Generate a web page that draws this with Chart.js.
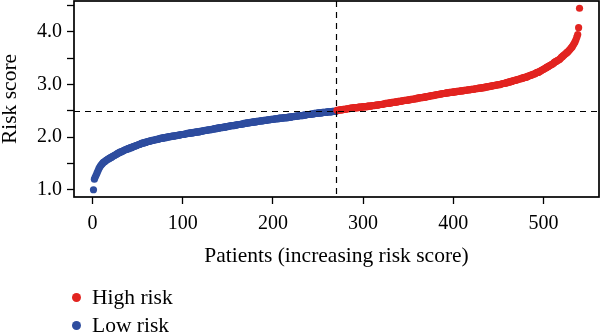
<!DOCTYPE html>
<html>
<head>
<meta charset="utf-8">
<title>Risk score distribution</title>
<script src="https://cdn.jsdelivr.net/npm/chart.js@4.4.1/dist/chart.umd.min.js"></script>
<style>
  html, body { margin: 0; padding: 0; background: #fff; }
  #wrap { position: relative; width: 600px; height: 333px; }
  #legend { position: absolute; left: 72px; top: 283px; font-family: "Liberation Serif", "DejaVu Serif", serif; font-size: 21.5px; color: #000; }
  .item { display: flex; align-items: center; height: 28px; }
  .dot { width: 9px; height: 9px; border-radius: 50%; margin-right: 11px; }
</style>
</head>
<body>
<div id="wrap">
  <canvas id="chart" width="600" height="333"></canvas>
  <div id="legend"></div>
</div>
<script>
// Sorted risk scores, patients 1-270 (below the cutoff)
const lowRisk = [
  1.00,1.20,1.24,1.28,1.32,1.36,1.40,1.43,1.46,1.48,
  1.50,1.52,1.53,1.54,1.56,1.57,1.58,1.59,1.60,1.61,
  1.62,1.63,1.64,1.65,1.66,1.67,1.68,1.69,1.70,1.71,
  1.72,1.72,1.73,1.74,1.75,1.76,1.76,1.77,1.78,1.78,
  1.79,1.80,1.80,1.81,1.82,1.82,1.83,1.84,1.84,1.85,
  1.86,1.86,1.87,1.88,1.88,1.89,1.89,1.90,1.90,1.91,
  1.91,1.92,1.92,1.93,1.93,1.94,1.94,1.94,1.95,1.95,
  1.96,1.96,1.96,1.97,1.97,1.98,1.98,1.98,1.99,1.99,
  1.99,2.00,2.00,2.00,2.01,2.01,2.01,2.02,2.02,2.02,
  2.02,2.03,2.03,2.03,2.04,2.04,2.04,2.05,2.05,2.05,
  2.05,2.06,2.06,2.06,2.07,2.07,2.07,2.08,2.08,2.08,
  2.08,2.09,2.09,2.09,2.10,2.10,2.10,2.10,2.11,2.11,
  2.11,2.12,2.12,2.12,2.13,2.13,2.13,2.14,2.14,2.14,
  2.14,2.15,2.15,2.15,2.16,2.16,2.16,2.17,2.17,2.17,
  2.18,2.18,2.18,2.18,2.19,2.19,2.19,2.20,2.20,2.20,
  2.21,2.21,2.21,2.22,2.22,2.22,2.22,2.23,2.23,2.23,
  2.24,2.24,2.24,2.24,2.25,2.25,2.25,2.26,2.26,2.26,
  2.27,2.27,2.27,2.27,2.28,2.28,2.28,2.29,2.29,2.29,
  2.29,2.30,2.30,2.30,2.30,2.31,2.31,2.31,2.31,2.32,
  2.32,2.32,2.32,2.33,2.33,2.33,2.33,2.34,2.34,2.34,
  2.34,2.35,2.35,2.35,2.35,2.35,2.36,2.36,2.36,2.36,
  2.36,2.37,2.37,2.37,2.37,2.37,2.38,2.38,2.38,2.38,
  2.39,2.39,2.39,2.39,2.40,2.40,2.40,2.40,2.41,2.41,
  2.41,2.41,2.41,2.42,2.42,2.42,2.42,2.43,2.43,2.43,
  2.43,2.44,2.44,2.44,2.44,2.45,2.45,2.45,2.45,2.46,
  2.46,2.46,2.46,2.46,2.47,2.47,2.47,2.47,2.47,2.48,
  2.48,2.48,2.48,2.48,2.48,2.49,2.49,2.49,2.49,2.49
];

// Sorted risk scores, patients 271-540 (above the cutoff)
const highRisk = [
  2.51,2.51,2.51,2.52,2.52,2.52,2.52,2.53,2.53,2.53,
  2.53,2.54,2.54,2.54,2.54,2.55,2.55,2.55,2.55,2.56,
  2.56,2.56,2.56,2.56,2.57,2.57,2.57,2.57,2.57,2.58,
  2.58,2.58,2.58,2.58,2.59,2.59,2.59,2.59,2.59,2.60,
  2.60,2.60,2.60,2.61,2.61,2.61,2.61,2.62,2.62,2.62,
  2.62,2.63,2.63,2.63,2.64,2.64,2.64,2.64,2.65,2.65,
  2.65,2.66,2.66,2.66,2.66,2.67,2.67,2.67,2.68,2.68,
  2.68,2.68,2.69,2.69,2.69,2.70,2.70,2.70,2.70,2.71,
  2.71,2.71,2.72,2.72,2.72,2.72,2.73,2.73,2.73,2.74,
  2.74,2.74,2.75,2.75,2.75,2.75,2.76,2.76,2.76,2.77,
  2.77,2.77,2.78,2.78,2.78,2.79,2.79,2.79,2.80,2.80,
  2.80,2.81,2.81,2.81,2.82,2.82,2.82,2.83,2.83,2.83,
  2.83,2.84,2.84,2.84,2.84,2.85,2.85,2.85,2.85,2.86,
  2.86,2.86,2.86,2.87,2.87,2.87,2.87,2.88,2.88,2.88,
  2.88,2.89,2.89,2.89,2.89,2.90,2.90,2.90,2.90,2.91,
  2.91,2.91,2.91,2.92,2.92,2.92,2.92,2.93,2.93,2.93,
  2.93,2.94,2.94,2.94,2.95,2.95,2.95,2.96,2.96,2.96,
  2.97,2.97,2.97,2.98,2.98,2.98,2.99,2.99,2.99,3.00,
  3.00,3.00,3.01,3.01,3.02,3.02,3.02,3.03,3.03,3.04,
  3.04,3.05,3.05,3.06,3.06,3.07,3.07,3.08,3.08,3.09,
  3.09,3.10,3.10,3.11,3.11,3.12,3.12,3.13,3.13,3.14,
  3.14,3.15,3.16,3.16,3.17,3.18,3.18,3.19,3.20,3.20,
  3.21,3.22,3.23,3.23,3.24,3.25,3.26,3.27,3.28,3.29,
  3.30,3.31,3.32,3.33,3.34,3.35,3.36,3.37,3.38,3.39,
  3.40,3.42,3.43,3.44,3.45,3.46,3.47,3.48,3.50,3.52,
  3.53,3.55,3.56,3.58,3.59,3.61,3.62,3.64,3.66,3.68,
  3.70,3.72,3.75,3.78,3.81,3.85,3.90,3.95,4.08,4.45
];

const xTicks = [0, 100, 200, 300, 400, 500];
const yTicks = [1.0, 1.5, 2.0, 2.5, 3.0, 3.5, 4.0, 4.5];
const yTickLabels = ['1.0', '', '2.0', '', '3.0', '', '4.0', ''];

const cutoffPatient = 270;   // median split
const cutoffScore = 2.5;

const highColor = '#e22420';
const lowColor = '#2e4d9f';
const serif = '"Liberation Serif", "DejaVu Serif", serif';

const lowPoints = lowRisk.map((v, i) => ({ x: i + 1, y: v }));
const highPoints = highRisk.map((v, i) => ({ x: lowRisk.length + i + 1, y: v }));

// Box around the plotting region plus the dashed cutoff lines
const framePlugin = {
  id: 'frame',
  afterDatasetsDraw(chart) {
    const { ctx, chartArea: a, scales: { x, y } } = chart;
    ctx.save();
    ctx.strokeStyle = '#000';
    ctx.lineWidth = 1.2;
    ctx.setLineDash([6, 5]);
    const cx = Math.round(x.getPixelForValue(cutoffPatient)) + 0.5;
    const cy = Math.round(y.getPixelForValue(cutoffScore)) + 0.5;
    ctx.beginPath();
    ctx.moveTo(cx, a.top); ctx.lineTo(cx, a.bottom);
    ctx.moveTo(a.left, cy); ctx.lineTo(a.right, cy);
    ctx.stroke();
    ctx.setLineDash([]);
    ctx.lineWidth = 1.7;
    ctx.strokeRect(a.left, a.top, a.right - a.left, a.bottom - a.top);
    ctx.restore();
  }
};

const tickFont = { family: serif, size: 20 };
const titleFont = { family: serif, size: 21.5, lineHeight: 1 };
const axisGrid = { drawOnChartArea: false, drawTicks: true, tickLength: 7, tickColor: '#000', tickWidth: 1.3 };

const chart = new Chart(document.getElementById('chart'), {
  type: 'scatter',
  data: {
    datasets: [
      { label: 'High risk', data: highPoints, backgroundColor: highColor, pointRadius: 3.6, borderWidth: 0 },
      { label: 'Low risk', data: lowPoints, backgroundColor: lowColor, pointRadius: 3.6, borderWidth: 0 }
    ]
  },
  options: {
    responsive: false,
    animation: false,
    events: [],
    layout: { autoPadding: false, padding: { top: 1, right: 1, bottom: 66, left: 0 } },
    plugins: { legend: { display: false }, tooltip: { enabled: false } },
    scales: {
      x: {
        type: 'linear',
        min: -20.6,
        max: 561.6,
        afterBuildTicks: s => { s.ticks = xTicks.map(v => ({ value: v })); },
        afterFit: s => { s.height = 70; s.paddingLeft = 0; s.paddingRight = 0; },
        grid: axisGrid,
        border: { display: false },
        ticks: { font: tickFont, color: '#000', padding: 8, maxRotation: 0, autoSkip: false },
        title: { display: true, text: 'Patients (increasing risk score)', font: titleFont, color: '#000', padding: 0 }
      },
      y: {
        type: 'linear',
        min: 0.862,
        max: 4.588,
        afterBuildTicks: s => { s.ticks = yTicks.map(v => ({ value: v })); },
        afterFit: s => { s.width = 74; s.paddingTop = 0; s.paddingBottom = 0; },
        grid: axisGrid,
        border: { display: false },
        ticks: {
          font: tickFont, color: '#000', padding: 5, autoSkip: false,
          callback: (v, i) => yTickLabels[i]
        },
        title: { display: true, text: 'Risk score', font: titleFont, color: '#000', padding: 0 }
      }
    }
  },
  plugins: [framePlugin]
});

// Legend listed in dataset order, one entry per row
const legendEl = document.getElementById('legend');
chart.data.datasets.forEach(ds => {
  const row = document.createElement('div');
  row.className = 'item';
  const dot = document.createElement('span');
  dot.className = 'dot';
  dot.style.background = ds.backgroundColor;
  const txt = document.createElement('span');
  txt.textContent = ds.label;
  row.appendChild(dot);
  row.appendChild(txt);
  legendEl.appendChild(row);
});
</script>
</body>
</html>
